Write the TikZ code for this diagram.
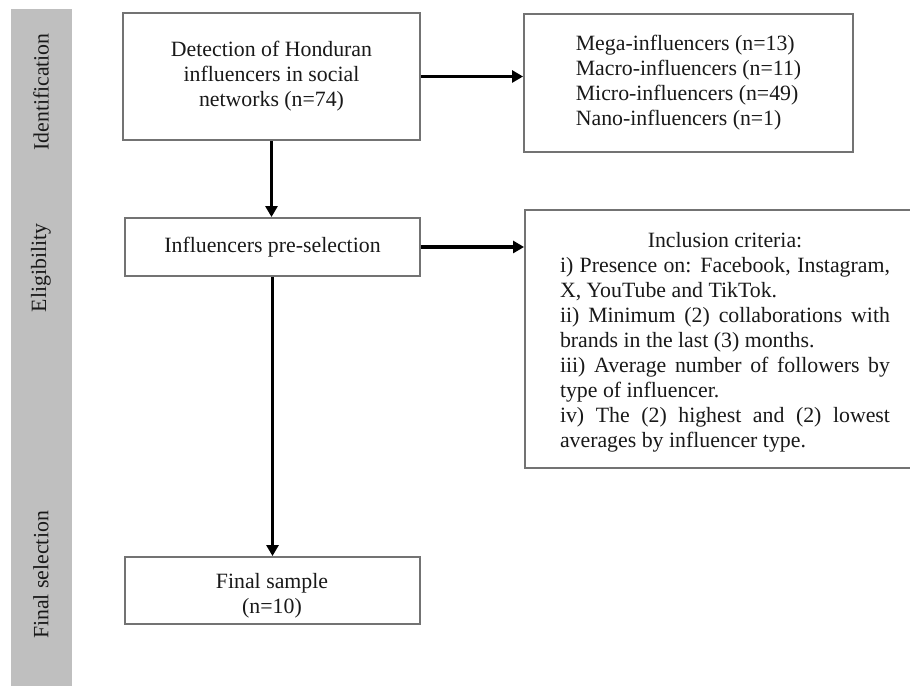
\documentclass[tikz,border=0pt]{standalone}
\usepackage{fontspec}
\setmainfont{Liberation Serif}
\usetikzlibrary{arrows.meta}
\begin{document}
\begin{tikzpicture}[x=0.55pt,y=-0.55pt,
  box/.style={draw=black!55,line width=1pt,inner sep=0pt,fill=white},
  txt/.style={text=black!90,font=\fontsize{12}{13.75}\selectfont},
  arr/.style={line width=2.1pt,-{Triangle[width=6.5pt,length=6pt]}},
  phase/.style={txt,rotate=90}]
\useasboundingbox (0,0) rectangle (910,686);
\clip (0,0) rectangle (910,686);
\fill[gray!50] (11,9) rectangle (72,686);
\node[phase] (idl) at (41,92) {Identification};
\node[phase] (elig) at (41,268) {Eligibility};
\node[phase] (finsel) at (41,575) {Final selection};

\node[box,txt,align=center,minimum width={297*0.55pt},minimum height={127*0.55pt}] (det) at (271.5,76.5) {Detection of Honduran\\influencers in social\\networks (n=74)};
\node[box,txt,align=left,minimum width={329*0.55pt},minimum height={138*0.55pt}] (types) at (688.5,83) {Mega-influencers (n=13)\\Macro-influencers (n=11)\\Micro-influencers (n=49)\\Nano-influencers (n=1)};
\node[box,txt,minimum width={295*0.55pt},minimum height={58*0.55pt}] (pre) at (272.5,247) {Influencers pre-selection};
\node[box,minimum width={415*0.55pt},minimum height={258*0.55pt}] (crit) at (732.5,339) {};
\node[txt,text width=181.5pt,align=justify,inner sep=0pt] (crittxt) at (725,342) {\setlength{\parindent}{0pt}\makebox[\linewidth]{Inclusion criteria:}\par
i) Presence on: Facebook, Instagram,\linebreak X, YouTube and TikTok.\par
ii) Minimum (2) collaborations with\linebreak brands in the last (3) months.\par
iii) Average number of followers by\linebreak type of influencer.\par
iv) The (2) highest and (2) lowest\linebreak averages by influencer type.};
\node[box,minimum width={295*0.55pt},minimum height={67*0.55pt}] (final) at (272.5,590.5) {};
\node[txt,align=center] (finaltxt) at (272,596) {Final sample\\(n=10)};

\draw[arr] (det.south) -- (det.south |- pre.north);
\draw[arr] (pre.south) -- (pre.south |- final.north);
\draw[arr] (det.east) -- (det.east -| types.west);
\draw[arr] (pre.east) -- (pre.east -| crit.west);
\end{tikzpicture}
\end{document}
